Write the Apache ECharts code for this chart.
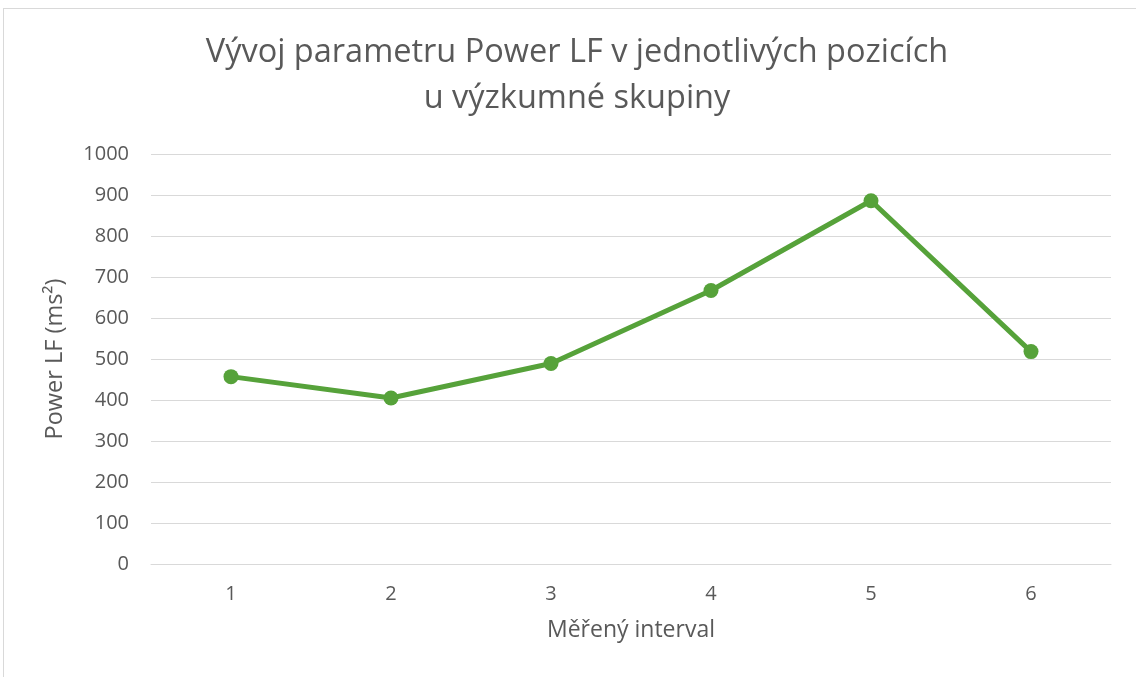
<!DOCTYPE html>
<html><head><meta charset="utf-8">
<script src="https://cdn.jsdelivr.net/npm/echarts@6/dist/echarts.min.js"></script>
<style>
html,body{margin:0;padding:0;background:#fff;overflow:hidden}
#frame{position:absolute;left:3px;top:8px;width:1200px;height:800px;border:1px solid #d9d9d9;box-sizing:border-box}
#c{position:absolute;left:0;top:0;width:1136px;height:677px}
</style></head>
<body>
<div id="frame"></div>
<div id="c"></div>
<script>
const categories = ['1','2','3','4','5','6'];
const powerLF = [457, 405, 489, 667, 886, 518];
const titleText = 'Vývoj parametru Power LF v jednotlivých pozicích\nu výzkumné skupiny';
const xName = 'Měřený interval';
const yName = 'Power LF (ms²)';

const font = '"Open Sans", "Noto Sans", sans-serif';
const chart = echarts.init(document.getElementById('c'), null, {renderer:'canvas'});
chart.setOption({
  animation:false,
  backgroundColor:'transparent',
  title:{
    text:titleText, left:572, top:25, textAlign:'center',
    textStyle:{fontFamily:font, fontSize:32.5, fontWeight:'normal', color:'#595959', lineHeight:46}
  },
  grid:{left:151, right:25, top:154, bottom:113, containLabel:false},
  xAxis:{
    type:'category', data:categories, boundaryGap:true,
    name:xName, nameLocation:'middle', nameGap:55,
    nameTextStyle:{fontFamily:font, fontSize:23, color:'#595959'},
    axisLine:{lineStyle:{color:'#d9d9d9', width:1}},
    axisTick:{show:false},
    axisLabel:{fontFamily:font, fontSize:20, color:'#595959', margin:20}
  },
  yAxis:{
    type:'value', min:0, max:1000, interval:100,
    name:yName, nameLocation:'middle', nameGap:84, nameRotate:90,
    nameTextStyle:{fontFamily:font, fontSize:23.5, color:'#595959'},
    axisLine:{show:false}, axisTick:{show:false},
    axisLabel:{fontFamily:font, fontSize:20, color:'#595959', margin:22, formatter:function(v){return String(v);}},
    splitLine:{lineStyle:{color:'#d9d9d9', width:1}}
  },
  series:[{
    type:'line', data:powerLF,
    lineStyle:{color:'#56a23a', width:5},
    itemStyle:{color:'#56a23a'},
    symbol:'circle', symbolSize:15
  }]
});
</script>
</body></html>
